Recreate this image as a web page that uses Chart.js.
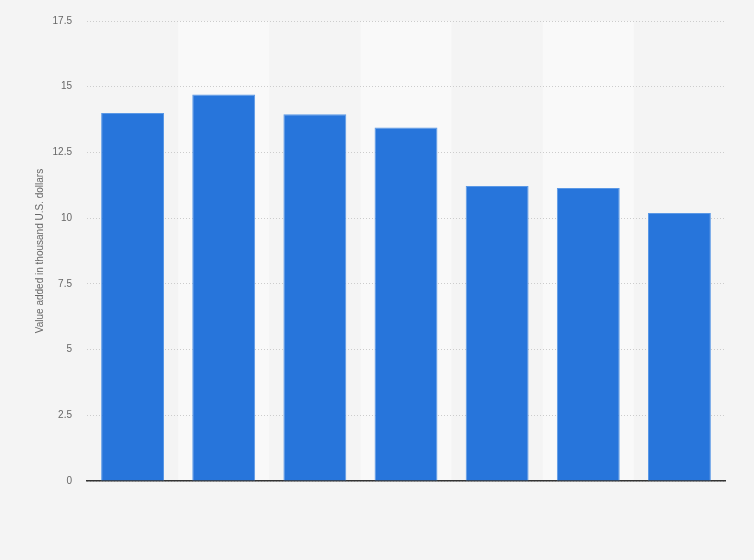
<!DOCTYPE html>
<html>
<head>
<meta charset="utf-8">
<script src="https://cdn.jsdelivr.net/npm/chart.js@4/dist/chart.umd.min.js"></script>
<style>
html,body{margin:0;padding:0;background:#f4f4f4;}
#wrap{width:754px;height:560px;}
</style>
</head>
<body>
<div id="wrap"><canvas id="c" width="754" height="560"></canvas></div>
<script>
const categories = ['1', '2', '3', '4', '5', '6', '7'];
const values = [14.0, 14.7, 13.95, 13.45, 11.22, 11.15, 10.2];
const yTicks = [0, 2.5, 5, 7.5, 10, 12.5, 15, 17.5];
const yTitle = 'Value added in thousand U.S. dollars';

const bandPlugin = {
  id: 'bands',
  beforeDraw(chart) {
    const ctx = chart.ctx;
    ctx.save();
    ctx.fillStyle = '#f4f4f4';
    ctx.fillRect(0, 0, chart.width, chart.height);
    const x = chart.scales.x, a = chart.chartArea;
    const w = (a.right - a.left) / categories.length;
    ctx.fillStyle = '#f9f9f9';
    categories.forEach((c, i) => {
      if (i % 2 === 1) {
        const cx = x.getPixelForValue(i);
        ctx.fillRect(cx - w / 2, a.top, w, a.bottom - a.top);
      }
    });
    ctx.restore();
  }
};

new Chart(document.getElementById('c'), {
  type: 'bar',
  data: {
    labels: categories,
    datasets: [{
      data: values,
      backgroundColor: '#2775db',
      borderColor: '#5a98e6',
      borderWidth: 1,
      borderSkipped: 'bottom',
      categoryPercentage: 1,
      barPercentage: 0.69
    }]
  },
  options: {
    responsive: false,
    animation: false,
    layout: { padding: { top: 18, right: 29, left: 0, bottom: 0 } },
    plugins: { legend: { display: false }, tooltip: { enabled: false } },
    scales: {
      x: {
        grid: { display: false, drawTicks: false },
        border: { display: true, color: '#333333', width: 1.5 },
        ticks: { display: false },
        afterFit(s) { s.height = 79; }
      },
      y: {
        min: 0, max: 17.5,
        afterBuildTicks(s) { s.ticks = yTicks.map(v => ({ value: v })); },
        grid: { color: '#cccccc', drawTicks: false, lineWidth: 1 },
        border: { display: false, dash: [1, 2] },
        ticks: {
          padding: 15, color: '#666666',
          font: { family: 'Liberation Sans, Arial, sans-serif', size: 10 },
          callback: v => String(v)
        },
        title: {
          display: true, text: yTitle, color: '#666666',
          font: { family: 'Liberation Sans, Arial, sans-serif', size: 10 },
          padding: { top: 34, bottom: 0 }
        },
        afterFit(s) { s.width = 87; }
      }
    }
  },
  plugins: [bandPlugin]
});
</script>
</body>
</html>
